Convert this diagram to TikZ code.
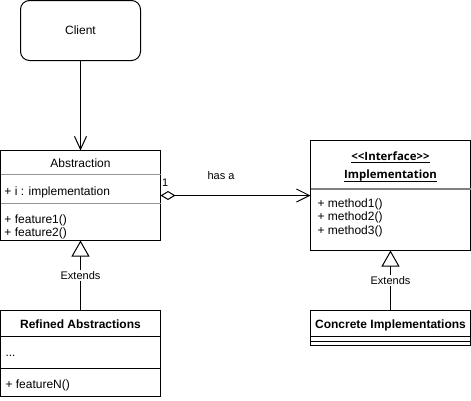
\documentclass[tikz,border=0pt]{standalone}
\usepackage{fontspec}
\setmainfont{Liberation Sans}
\newfontfamily\hdrfont{Open Sans}
\usetikzlibrary{arrows.meta}
\definecolor{sepgray}{RGB}{150,150,150}
\definecolor{hgray}{RGB}{128,128,128}
\newcommand\myul[1]{\setbox0\hbox{#1}\rlap{\rule[-2.7pt]{\wd0}{0.9pt}}\box0}
\begin{document}
\begin{tikzpicture}[x=1pt,y=-1pt,line width=1pt,
  box/.style={draw,line width=1pt,inner sep=0pt,outer sep=0pt,anchor=north west,minimum width=160pt},
  txt/.style={inner sep=0pt,font=\fontsize{12}{14}\selectfont},
  btxt/.style={inner sep=0pt,font=\fontsize{12}{14}\selectfont\bfseries},
  htxt/.style={inner sep=0pt,font=\hdrfont\bfseries\fontsize{11.4}{13}\selectfont},
  lbl/.style={inner sep=1pt,font=\fontsize{11}{13}\selectfont,fill=white},
  sep/.style={draw=sepgray,line width=1pt},
  bsep/.style={draw=black,line width=1pt},
  openarrow/.style={-{Straight Barb[length=13pt,width=12pt]}},
  inherit/.style={-{Triangle[open,length=16pt,width=18pt,fill=white]}},
  aggr/.style={{Diamond[open,length=15pt,width=9pt,fill=white]}-{Straight Barb[length=13pt,width=13pt]}}
]
\useasboundingbox (0,0) rectangle (471,400);

% Client
\node[box,rounded corners=9pt,minimum width=120pt,minimum height=60pt] (client) at (20.5,0.5) {};
\node[txt] (clienttxt) at (client.center) {Client};

% Abstraction
\node[box,minimum height=90pt] (abs) at (0.5,150.5) {};
\node[txt,anchor=base] (absname) at (80.5,167.3) {Abstraction};
\draw[sep] (0.5,174.5) -- (160.5,174.5);
\node[txt,anchor=base west] (absattr) at (4,195) {+ i : implementation};
\draw[sep] (0.5,203.5) -- (160.5,203.5);
\node[txt,anchor=base west] (absm1) at (4,223.8) {+ feature1()};
\node[txt,anchor=base west] (absm2) at (4,236.3) {+ feature2()};

% Refined Abstractions
\node[box,minimum height=86pt] (ref) at (0.5,310.5) {};
\node[btxt,anchor=base] (refname) at (80.5,328) {Refined Abstractions};
\draw[bsep] (0.5,336.5) -- (160.5,336.5);
\node[txt,anchor=base west] (refattr) at (5,356) {...};
\draw[bsep] (0.5,368.5) -- (160.5,368.5);
\node[txt,anchor=base west] (refm) at (5,388) {+ featureN()};

% Implementation
\node[box,minimum height=110pt] (impl) at (310.5,140.5) {};
\node[htxt,anchor=base] (implst) at (390.5,160.3) {\myul{{<}{<}Interface{>}{>}}};
\node[htxt,anchor=base] (implname) at (390.5,178.7) {\myul{Implementation}};
\draw[draw=hgray,line width=1.6pt] (310.5,189) -- (470.5,189);
\node[txt,anchor=base west] (implm1) at (317,207.3) {+ method1()};
\node[txt,anchor=base west] (implm2) at (317,220.8) {+ method2()};
\node[txt,anchor=base west] (implm3) at (317,234.3) {+ method3()};

% Concrete Implementations
\node[box,minimum height=35pt] (conc) at (310.5,310.5) {};
\node[btxt,anchor=base] (concname) at (390.5,328) {Concrete Implementations};
\draw[bsep] (310.5,336.5) -- (470.5,336.5);
\draw[bsep] (310.5,341.5) -- (470.5,341.5);

% Connectors
\draw[openarrow] (client.south) -- (abs.north);
\draw[inherit] (ref.north) -- node[lbl] (ext1) {Extends} (abs.south);
\draw[inherit] (conc.north) -- node[lbl] (ext2) {Extends} (impl.south);
\draw[aggr] (abs.east) -- (impl.west);
\node[lbl,fill=none,inner sep=0pt,anchor=base west] (mult) at (161.5,186.7) {1};
\node[lbl,fill=none,inner sep=0pt,anchor=base] (hasa) at (221,179) {has a};
\end{tikzpicture}
\end{document}
